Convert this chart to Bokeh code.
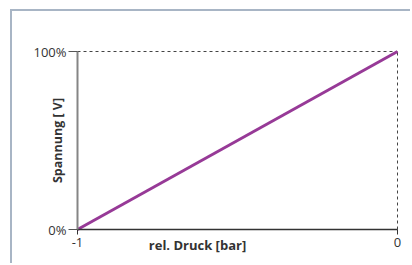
import math
from bokeh.plotting import figure
from bokeh.models import FixedTicker, Range1d, Label, LinearAxis
from bokeh.embed import file_html
from bokeh.resources import INLINE

# data
pressure_bar = [-1, 0]
voltage_pct = [0, 100]
x_ticks = [-1, 0]
x_tick_labels = {-1: "-1", 0: "0"}
y_ticks = [0, 100]
y_tick_labels = {0: "0%", 100: "100%"}
x_title = "rel. Druck [bar]"
y_title = "Spannung [ V]"

FONT = "Open Sans"
TXT = "#333333"

W, H = 400, 254               # canvas size (px)
PAD_L, PAD_R, PAD_T, PAD_B = 65, 15, 40, 36   # px around the axes box

x0, x1 = min(pressure_bar), max(pressure_bar)
y0, y1 = min(voltage_pct), max(voltage_pct)
xs = (x1 - x0) / (W - PAD_L - PAD_R)   # data units per px
ys = (y1 - y0) / (H - PAD_T - PAD_B)

p = figure(width=W, height=H, output_backend="svg", toolbar_location=None,
           x_range=Range1d(x0 - PAD_L * xs, x1 + PAD_R * xs),
           y_range=Range1d(y0 - PAD_B * ys, y1 + PAD_T * ys),
           x_axis_location=None, y_axis_location=None,
           min_border=0)
p.styles = {"margin-left": "10px", "margin-top": "9px",
            "border-left": "2px solid #a8b5c5", "border-top": "2px solid #a8b5c5"}
p.outline_line_color = None
p.grid.visible = False
p.background_fill_color = "white"
p.border_fill_color = "white"

# axes
xa = LinearAxis(fixed_location=y0, bounds=(x0, x1))
xa.ticker = FixedTicker(ticks=x_ticks)
xa.major_label_overrides = x_tick_labels
xa.axis_line_color = "#333333"
xa.axis_line_width = 1.5
xa.major_tick_line_color = "#333333"
xa.major_tick_in = 0
xa.major_tick_out = 5
xa.minor_tick_line_color = None
xa.major_label_standoff = 3
xa.major_label_text_font = FONT
xa.major_label_text_font_size = "13px"
xa.major_label_text_color = TXT
p.add_layout(xa, "below")

ya = LinearAxis(fixed_location=x0, bounds=(y0, y1))
ya.ticker = FixedTicker(ticks=y_ticks)
ya.major_label_overrides = y_tick_labels
ya.axis_line_color = "#858585"
ya.axis_line_width = 2
ya.major_tick_line_color = "#555555"
ya.major_tick_in = 0
ya.major_tick_out = 9
ya.minor_tick_line_color = None
ya.major_label_standoff = 2
ya.major_label_text_font = FONT
ya.major_label_text_font_size = "13px"
ya.major_label_text_color = TXT
p.add_layout(ya, "left")

# dashed limit lines
p.line([x0, x1], [y1, y1], line_color="#444444", line_width=1, line_dash="3 3")
p.line([x1, x1], [y0, y1], line_color="#444444", line_width=1, line_dash="3 3")

# main line
p.line(pressure_bar, voltage_pct, line_color="#973a97", line_width=3)

# titles
p.add_layout(Label(x=x0 + 120 * xs, y=y0 - 15 * ys, text=x_title,
                   text_align="center", text_baseline="middle", text_font=FONT,
                   text_font_size="13px", text_font_style="bold", text_color=TXT))
p.add_layout(Label(x=x0 - 20 * xs, y=(y0 + y1) / 2, text=y_title,
                   angle=math.pi / 2, text_align="center", text_baseline="middle",
                   text_font=FONT, text_font_size="12.5px", text_font_style="bold",
                   text_color=TXT))

open("out.html", "w").write(file_html(p, INLINE))
